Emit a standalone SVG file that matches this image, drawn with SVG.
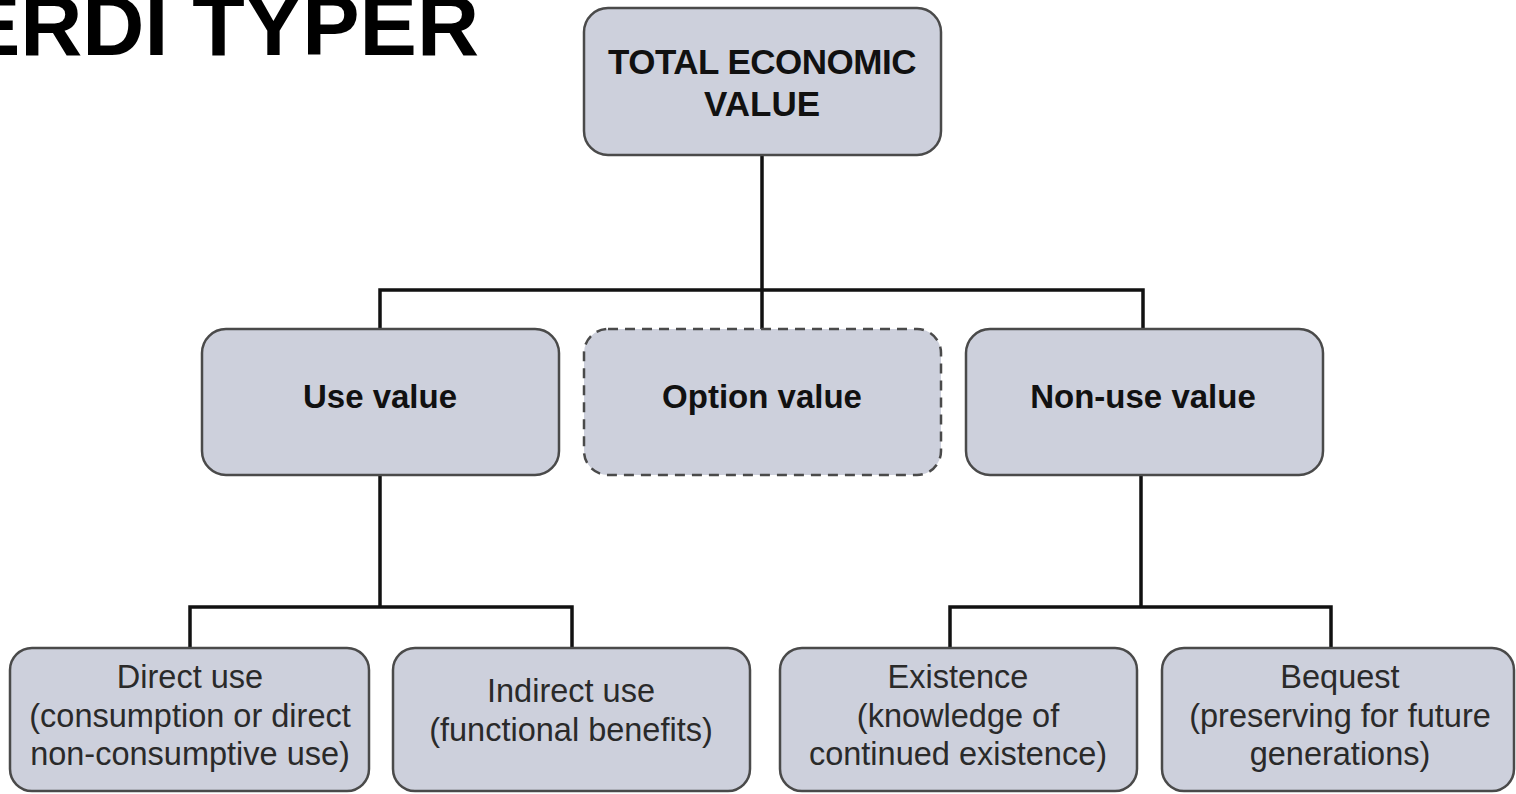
<svg xmlns="http://www.w3.org/2000/svg" width="1516" height="794" viewBox="0 0 1516 794">
<style>
.box{fill:#cdd0dc;stroke:#4a4a4a;stroke-width:2.5}
.dash{stroke-dasharray:10 7}
.con{fill:none;stroke:#111;stroke-width:3.5}
.b{font-family:"Liberation Sans",Arial,sans-serif;font-weight:bold;fill:#111;text-anchor:middle}
.r{font-family:"Liberation Sans",Arial,sans-serif;fill:#2a2a2a;text-anchor:middle;font-size:32.5px}
</style>
<rect width="1516" height="794" fill="#fff"/>
<text x="479" y="55" font-family="Liberation Sans,Arial,sans-serif" font-weight="bold" font-size="86" text-anchor="end" fill="#000">ERDI TYPER</text>
<g id="connectors">
<path class="con" d="M762 155V290M380 330V290H1143V330M762 290V330"/>
<path class="con" d="M380 475V607M190 648V607H572V648"/>
<path class="con" d="M1141 475V607M950 648V607H1331V648"/>
</g>
<g id="tev"><rect class="box" x="584" y="8" width="357" height="147" rx="24"/>
<text class="b" font-size="35" x="762" y="74" letter-spacing="-0.5">TOTAL ECONOMIC</text><text class="b" font-size="35" x="762" y="116">VALUE</text></g>
<g id="use"><rect class="box" x="202" y="329" width="357" height="146" rx="24"/><text class="b" font-size="33" x="380" y="408">Use value</text></g>
<g id="option"><rect class="box dash" x="584" y="329" width="357" height="146" rx="24"/><text class="b" font-size="33" x="762" y="408">Option value</text></g>
<g id="nonuse"><rect class="box" x="966" y="329" width="357" height="146" rx="24"/><text class="b" font-size="33" x="1143" y="408">Non-use value</text></g>
<g id="direct"><rect class="box" x="10" y="648" width="359" height="143" rx="22"/><text class="r" x="190" y="688">Direct use</text><text class="r" x="190" y="727">(consumption or direct</text><text class="r" x="190" y="765">non-consumptive use)</text></g>
<g id="indirect"><rect class="box" x="393" y="648" width="357" height="143" rx="22"/><text class="r" x="571" y="702">Indirect use</text><text class="r" x="571" y="741">(functional benefits)</text></g>
<g id="existence"><rect class="box" x="780" y="648" width="357" height="143" rx="22"/><text class="r" x="958" y="688">Existence</text><text class="r" x="958" y="727">(knowledge of</text><text class="r" x="958" y="765">continued existence)</text></g>
<g id="bequest"><rect class="box" x="1162" y="648" width="352" height="143" rx="22"/><text class="r" x="1340" y="688">Bequest</text><text class="r" x="1340" y="727">(preserving for future</text><text class="r" x="1340" y="765">generations)</text></g>
</svg>
